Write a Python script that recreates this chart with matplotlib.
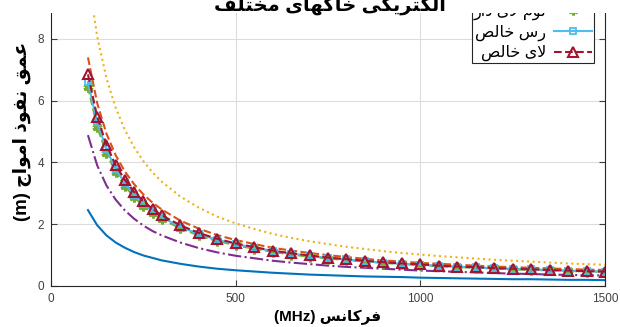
import matplotlib
matplotlib.use('Agg')
import matplotlib.pyplot as plt
from matplotlib.patches import Rectangle

plt.rcParams['font.family'] = ['Liberation Sans', 'DejaVu Sans']

# frequencies (MHz) and penetration depth (m)
freq = [100, 125, 150, 175, 200, 225, 250, 275, 300, 350, 400, 450, 500, 550, 600, 650,
        700, 750, 800, 850, 900, 950, 1000, 1050, 1100, 1150, 1200, 1250, 1300, 1350,
        1400, 1450, 1500]

depth_blue = [2.45, 1.96, 1.63, 1.40, 1.23, 1.09, 0.98, 0.90, 0.82, 0.71, 0.62, 0.55, 0.50,
              0.46, 0.42, 0.39, 0.36, 0.34, 0.32, 0.30, 0.29, 0.28, 0.26, 0.25, 0.24, 0.23,
              0.22, 0.21, 0.21, 0.20, 0.19, 0.19, 0.18]
depth_orange = [7.40, 5.92, 4.93, 4.23, 3.70, 3.29, 2.96, 2.69, 2.47, 2.11, 1.85, 1.64, 1.48,
                1.35, 1.23, 1.14, 1.06, 0.99, 0.93, 0.87, 0.82, 0.78, 0.74, 0.71, 0.68, 0.65,
                0.62, 0.60, 0.58, 0.56, 0.54, 0.52, 0.51]
depth_yellow = [10.10, 8.08, 6.73, 5.77, 5.05, 4.49, 4.04, 3.67, 3.37, 2.89, 2.53, 2.24, 2.02,
                1.84, 1.68, 1.55, 1.44, 1.35, 1.26, 1.19, 1.12, 1.06, 1.01, 0.96, 0.92, 0.88,
                0.84, 0.81, 0.78, 0.75, 0.72, 0.70, 0.68]
depth_purple = [4.88, 3.90, 3.25, 2.79, 2.44, 2.17, 1.95, 1.77, 1.63, 1.40, 1.22, 1.08, 0.97,
                0.89, 0.81, 0.75, 0.70, 0.65, 0.61, 0.58, 0.55, 0.52, 0.49, 0.47, 0.45, 0.43,
                0.41, 0.39, 0.38, 0.36, 0.35, 0.34, 0.33]
depth_silty_loam = [6.45, 5.15, 4.30, 3.68, 3.23, 2.87, 2.59, 2.36, 2.16, 1.86, 1.63, 1.45, 1.31,
                    1.20, 1.10, 1.01, 0.94, 0.88, 0.83, 0.78, 0.74, 0.70, 0.67, 0.63, 0.60, 0.58,
                    0.56, 0.53, 0.51, 0.50, 0.48, 0.46, 0.45]
depth_clay = [6.60, 5.30, 4.42, 3.79, 3.32, 2.95, 2.66, 2.42, 2.22, 1.91, 1.67, 1.49, 1.35,
              1.23, 1.13, 1.04, 0.97, 0.90, 0.85, 0.80, 0.75, 0.71, 0.68, 0.65, 0.62, 0.59,
              0.57, 0.55, 0.53, 0.51, 0.49, 0.47, 0.46]
depth_silt = [6.85, 5.48, 4.57, 3.91, 3.43, 3.04, 2.74, 2.49, 2.28, 1.96, 1.71, 1.52, 1.37,
              1.25, 1.14, 1.05, 0.98, 0.91, 0.86, 0.81, 0.76, 0.72, 0.69, 0.65, 0.62, 0.60,
              0.57, 0.55, 0.53, 0.51, 0.49, 0.47, 0.46]

labels = ['لوم لای دار', 'رس خالص', 'لای خالص']
title_txt = 'الکتریکی خاکهای مختلف'
xlab = 'فرکانس'
ylab = 'عمق نفوذ امواج'

x_ticks = [0, 500, 1000, 1500]
y_ticks = [0, 2, 4, 6, 8]

# crude persian shaping (matplotlib has no bidi / joining)
FORMS = {
    'ا': ('\uFE8D', '\uFE8E', None, None),
    'ت': ('\uFE95', '\uFE96', '\uFE97', '\uFE98'),
    'ج': ('\uFE9D', '\uFE9E', '\uFE9F', '\uFEA0'),
    'خ': ('\uFEA5', '\uFEA6', '\uFEA7', '\uFEA8'),
    'د': ('\uFEA9', '\uFEAA', None, None),
    'ذ': ('\uFEAB', '\uFEAC', None, None),
    'ر': ('\uFEAD', '\uFEAE', None, None),
    'س': ('\uFEB1', '\uFEB2', '\uFEB3', '\uFEB4'),
    'ص': ('\uFEB9', '\uFEBA', '\uFEBB', '\uFEBC'),
    'ع': ('\uFEC9', '\uFECA', '\uFECB', '\uFECC'),
    'ف': ('\uFED1', '\uFED2', '\uFED3', '\uFED4'),
    'ق': ('\uFED5', '\uFED6', '\uFED7', '\uFED8'),
    'ل': ('\uFEDD', '\uFEDE', '\uFEDF', '\uFEE0'),
    'م': ('\uFEE1', '\uFEE2', '\uFEE3', '\uFEE4'),
    'ن': ('\uFEE5', '\uFEE6', '\uFEE7', '\uFEE8'),
    'ه': ('\uFEE9', '\uFEEA', '\uFEEB', '\uFEEC'),
    'و': ('\uFEED', '\uFEEE', None, None),
    'ک': ('\uFB8E', '\uFB8F', '\uFB90', '\uFB91'),
    'ی': ('\uFBFC', '\uFBFD', '\uFBFE', '\uFBFF'),
}


def joins_left(c):
    return c in FORMS and FORMS[c][2] is not None


def fa(s):
    out = []
    i = 0
    while i < len(s):
        c = s[i]
        if c not in FORMS:
            out.append(c)
            i += 1
            continue
        jp = i > 0 and joins_left(s[i - 1])
        if c == 'ل' and i + 1 < len(s) and s[i + 1] == 'ا':
            out.append('\uFEFC' if jp else '\uFEFB')
            i += 2
            continue
        jn = joins_left(c) and i + 1 < len(s) and s[i + 1] in FORMS
        iso, fin, ini, med = FORMS[c]
        if jp and jn:
            out.append(med)
        elif jp:
            out.append(fin)
        elif jn:
            out.append(ini)
        else:
            out.append(iso)
        i += 1
    return ''.join(reversed(out))


fig = plt.figure(figsize=(6.2, 3.27), dpi=100)
ax = fig.add_axes([0.0823, 0.1263, 0.8935, 0.9434])

ax.plot(freq, depth_blue, color='#0072BD', lw=1.5)
ax.plot(freq, depth_orange, color='#D95319', lw=1.5, ls='--')
ax.plot(freq, depth_yellow, color='#EDB120', lw=1.5, ls=':')
ax.plot(freq, depth_purple, color='#7E2F8E', lw=1.5, ls='-.')
ax.plot(freq, depth_silty_loam, color='#77AC30', lw=1.5, ls='--', marker=(6, 2, 0),
        ms=7, mew=2.2, label=fa(labels[0]))
ax.plot(freq, depth_clay, color='#4DBEEE', lw=1.5, ls='-', marker='s', ms=4.5,
        mfc='none', mew=1.3, label=fa(labels[1]))
ax.plot(freq, depth_silt, color='#A2142F', lw=1.5, ls='--', marker='^', ms=7,
        mfc='none', mew=1.5, label=fa(labels[2]))

ax.set_xlim(0, 1500)
ax.set_ylim(0, 10)
ax.set_xticks(x_ticks)
ax.set_yticks(y_ticks)
ax.grid(True, color='#dcdcdc', lw=0.8)
ax.set_axisbelow(True)
ax.tick_params(direction='in', length=4, width=0.8, colors='#404040', labelsize=8.5,
               right=True, top=False, pad=5)
for side in ['left', 'right', 'bottom']:
    ax.spines[side].set_color('#262626')
    ax.spines[side].set_linewidth(0.8)
ax.spines['top'].set_visible(False)

ax.set_xlabel('(MHz) ' + fa(xlab), fontsize=11, fontweight='bold', labelpad=4)
ax.set_ylabel('(m) ' + fa(ylab), fontsize=13.5, fontweight='bold', labelpad=4)

leg = ax.legend(loc='lower right', bbox_to_anchor=(0.958, 1 - 63 / 327),
                bbox_transform=fig.transFigure,
                markerfirst=False, fancybox=False, framealpha=1, edgecolor='#262626',
                fontsize=11.5, handlelength=2.4, handletextpad=0.5, labelspacing=0.28,
                borderaxespad=0, borderpad=0.1)
leg.get_frame().set_linewidth(0.8)

# white strip over the top edge, title drawn on it
fig.patches.append(Rectangle((0, 1 - 12.5 / 327), 1, 12.5 / 327, transform=fig.transFigure,
                             facecolor='white', edgecolor='none', zorder=1))
fig.text(0.532, 1 - 11 / 327, fa(title_txt), ha='center', va='baseline', fontsize=14,
         fontweight='bold', zorder=2)

fig.savefig('out.png', dpi=100)
